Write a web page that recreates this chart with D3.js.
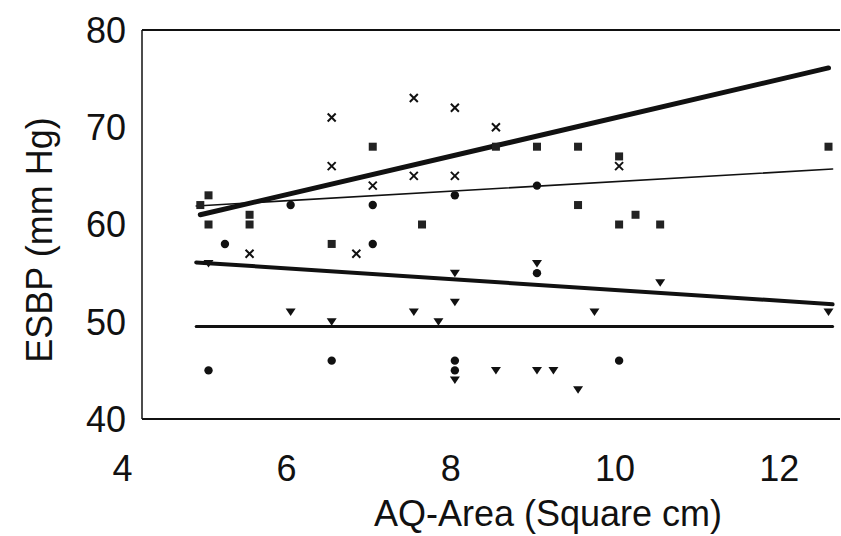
<!DOCTYPE html>
<html>
<head>
<meta charset="utf-8">
<script src="https://cdn.jsdelivr.net/npm/d3@7"></script>
<style>
    body { margin: 0; background: #fff; }
    text { font-family: "Liberation Sans", Arial, sans-serif; fill: #111; }
</style>
</head>
<body>
<svg id="chart" width="841" height="536"></svg>
<script>
let x_ticks = [4, 6, 8, 10, 12];
let y_ticks = [40, 50, 60, 70, 80];

let squares = [[4.9, 62], [5, 63], [5, 60], [5.5, 61], [5.5, 60], [6.5, 58], [7, 68], [7.6, 60], [8.5, 68],
    [9, 68], [9.5, 68], [9.5, 62], [10, 67], [10, 60], [10.2, 61], [10.5, 60], [12.55, 68]];
let crosses = [[5.5, 57], [6.5, 71], [6.5, 66], [6.8, 57], [7, 64], [7.5, 73], [7.5, 65], [8, 72], [8, 65],
    [8.5, 70], [10, 66]];
let circles = [[5, 45], [5.2, 58], [6, 62], [6.5, 46], [7, 62], [7, 58], [8, 63], [8, 46], [8, 45], [9, 64],
    [9, 55], [10, 46]];
let triangles = [[5, 56], [6, 51], [6.5, 50], [7.5, 51], [7.8, 50], [8, 55], [8, 52], [8, 44], [8.5, 45],
    [9, 56], [9, 45], [9.2, 45], [9.5, 43], [9.7, 51], [10.5, 54], [12.55, 51]];

let fit_thick_up = [[4.9, 61.0], [12.55, 76.1]];
let fit_thin_up = [[4.85, 61.9], [12.6, 65.7]];
let fit_thick_down = [[4.85, 56.1], [12.6, 51.8]];
let fit_flat = [[4.85, 49.5], [12.6, 49.5]];

const ink = '#111';
let svg = d3.select('#chart');
let x = d3.scaleLinear().domain([4.19, 12.69]).range([142, 840]);
let y = d3.scaleLinear().domain([40, 80]).range([419, 30]);

// frame: left, top and bottom only
let frame = svg.append('g').attr('stroke', ink).attr('fill', 'none');
frame.append('line').attr('x1', x(4.19)).attr('x2', x(4.19)).attr('y1', y(80)).attr('y2', y(40)).attr('stroke-width', 1.5);
frame.append('line').attr('x1', x(4.19)).attr('x2', x(12.69)).attr('y1', y(80)).attr('y2', y(80)).attr('stroke-width', 2);
frame.append('line').attr('x1', x(4.19)).attr('x2', x(12.69)).attr('y1', y(40)).attr('y2', y(40)).attr('stroke-width', 2);

svg.append('g').selectAll('text').data(y_ticks).join('text')
    .attr('x', 126).attr('y', d => y(d)).attr('dy', '0.36em')
    .attr('text-anchor', 'end').attr('font-size', 36)
    .text(d => d);

svg.append('g').selectAll('text').data(x_ticks).join('text')
    .attr('x', d => x(d) - 4).attr('y', 481)
    .attr('text-anchor', 'middle').attr('font-size', 36)
    .text(d => d);

svg.append('text').attr('x', 548).attr('y', 526).attr('text-anchor', 'middle')
    .attr('font-size', 36).text('AQ-Area (Square cm)');
svg.append('text').attr('transform', 'translate(52,240) rotate(-90)').attr('text-anchor', 'middle')
    .attr('font-size', 36).text('ESBP (mm Hg)');

let line = d3.line().x(d => x(d[0])).y(d => y(d[1]));
let fits = svg.append('g').attr('fill', 'none').attr('stroke', ink).attr('stroke-linecap', 'round');
fits.append('path').datum(fit_thick_up).attr('d', line).attr('stroke-width', 5);
fits.append('path').datum(fit_thin_up).attr('d', line).attr('stroke-width', 1.6);
fits.append('path').datum(fit_thick_down).attr('d', line).attr('stroke-width', 4);
fits.append('path').datum(fit_flat).attr('d', line).attr('stroke-width', 3);

let marks = svg.append('g');
marks.selectAll('rect').data(squares).join('rect')
    .attr('x', d => x(d[0]) - 4).attr('y', d => y(d[1]) - 4)
    .attr('width', 8).attr('height', 8).attr('fill', '#222');
marks.selectAll('circle').data(circles).join('circle')
    .attr('cx', d => x(d[0])).attr('cy', d => y(d[1])).attr('r', 4.2).attr('fill', ink);
marks.selectAll('path.cross').data(crosses).join('path').attr('class', 'cross')
    .attr('transform', d => 'translate(' + x(d[0]) + ',' + y(d[1]) + ')')
    .attr('d', 'M-4,-4L4,4M-4,4L4,-4')
    .attr('stroke', ink).attr('stroke-width', 2).attr('fill', 'none');
marks.selectAll('path.tri').data(triangles).join('path').attr('class', 'tri')
    .attr('transform', d => 'translate(' + x(d[0]) + ',' + y(d[1]) + ')')
    .attr('d', 'M-5,-3.5L5,-3.5L0,4Z')
    .attr('fill', ink);
</script>
</body>
</html>
